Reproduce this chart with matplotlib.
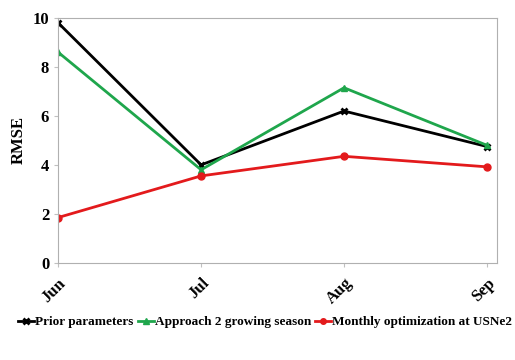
import matplotlib.pyplot as plt

# Datos
meses = ["Jun", "Jul", "Aug", "Sep"]
prior = [9.8, 4.0, 6.2, 4.75]
approach2 = [8.6, 3.8, 7.15, 4.8]
monthly = [1.85, 3.55, 4.35, 3.92]

plt.rcParams['font.family'] = ['Liberation Serif', 'DejaVu Serif']
plt.rcParams['font.weight'] = 'bold'

fig = plt.figure(figsize=(5.15, 3.6), dpi=100)
ax = fig.add_axes([0.113, 0.27, 0.852, 0.68])

x = list(range(len(meses)))
ax.plot(x, prior, color="black", marker="x", markersize=5, mew=2, lw=2, label="Prior parameters")
ax.plot(x, approach2, color="#1fa64c", marker="^", markersize=5, lw=2, label="Approach 2 growing season")
ax.plot(x, monthly, color="#e31a1c", marker="o", markersize=5, lw=2, label="Monthly optimization at USNe2")

ax.set_xlim(0, 3.07)
ax.set_ylim(0, 10)
ax.set_yticks([0, 2, 4, 6, 8, 10])
ax.set_xticks(x)
ax.set_xticklabels(meses, rotation=45, ha="right", rotation_mode="anchor", fontsize=12, fontweight="bold")
ax.tick_params(axis="y", labelsize=12, length=3, color="#c0c0c0")
ax.tick_params(axis="x", length=3, color="#c0c0c0", pad=6)
for s in ax.spines.values():
    s.set_color("#b0b0b0")
ax.set_ylabel("RMSE", fontsize=12, fontweight="bold")

fig.legend(loc="lower center", bbox_to_anchor=(0.515, 0.055), ncol=3, frameon=False,
           handlelength=1.2, handletextpad=0.1, columnspacing=0.3, markerscale=0.8,
           prop={"weight": "bold", "size": 9.5})

fig.savefig("out.png")
